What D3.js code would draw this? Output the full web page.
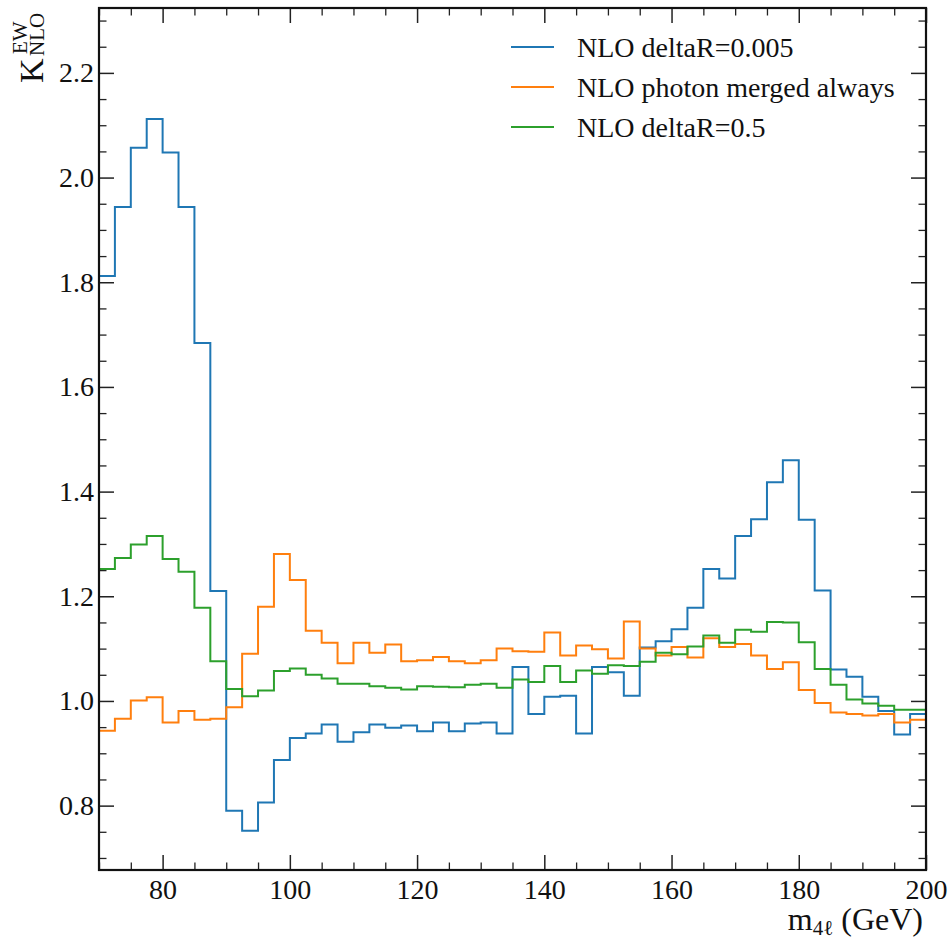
<!DOCTYPE html>
<html>
<head>
<meta charset="utf-8">
<script src="https://cdn.jsdelivr.net/npm/d3@7"></script>
<style>
  body { margin: 0; background: #fff; }
  svg text { font-family: "Liberation Serif", "Times New Roman", serif; fill: #111; }
</style>
</head>
<body>
<div id="chart"></div>
<script>
// bin edges of the m4l histogram (GeV)
var binEdges = [70, 72.5, 75, 77.5, 80, 82.5, 85, 87.5, 90, 92.5, 95, 97.5, 100, 102.5, 105, 107.5,
    110, 112.5, 115, 117.5, 120, 122.5, 125, 127.5, 130, 132.5, 135, 137.5, 140, 142.5, 145, 147.5,
    150, 152.5, 155, 157.5, 160, 162.5, 165, 167.5, 170, 172.5, 175, 177.5, 180, 182.5, 185, 187.5,
    190, 192.5, 195, 197.5, 200];

var deltaR005 = [1.812, 1.944, 2.057, 2.112, 2.048, 1.944, 1.684, 1.210, 0.790, 0.752, 0.806, 0.887, 0.929,
    0.938, 0.955, 0.922, 0.940, 0.955, 0.949, 0.953, 0.942, 0.959, 0.942, 0.957, 0.959, 0.938, 1.065,
    0.975, 1.008, 1.010, 0.938, 1.065, 1.055, 1.010, 1.102, 1.114, 1.137, 1.178, 1.252, 1.234, 1.315,
    1.347, 1.418, 1.460, 1.346, 1.211, 1.060, 1.046, 1.008, 0.981, 0.936, 0.975];

var photonMerged = [0.943, 0.966, 1.001, 1.007, 0.959, 0.981, 0.964, 0.966, 0.988, 1.090, 1.180, 1.281, 1.231,
    1.134, 1.111, 1.072, 1.111, 1.092, 1.108, 1.076, 1.078, 1.084, 1.076, 1.072, 1.078, 1.100, 1.095,
    1.094, 1.131, 1.087, 1.106, 1.099, 1.081, 1.152, 1.100, 1.087, 1.103, 1.083, 1.120, 1.103, 1.109,
    1.087, 1.061, 1.074, 1.021, 0.996, 0.978, 0.975, 0.972, 0.975, 0.959, 0.964];

var deltaR05 = [1.252, 1.273, 1.299, 1.315, 1.271, 1.247, 1.178, 1.076, 1.023, 1.009, 1.020, 1.057, 1.062,
    1.050, 1.043, 1.033, 1.033, 1.028, 1.025, 1.022, 1.028, 1.027, 1.026, 1.031, 1.033, 1.025, 1.041,
    1.036, 1.067, 1.036, 1.058, 1.052, 1.068, 1.067, 1.075, 1.092, 1.089, 1.104, 1.125, 1.111, 1.136,
    1.132, 1.151, 1.150, 1.112, 1.061, 1.031, 1.003, 0.995, 0.991, 0.983, 0.983];

var seriesNames = ['NLO deltaR=0.005', 'NLO photon merged always', 'NLO deltaR=0.5'];
var seriesColors = ['#1f77b4', '#ff7f0e', '#2ca02c'];

var xTicks = [80, 100, 120, 140, 160, 180, 200];
var yTicks = [0.8, 1.0, 1.2, 1.4, 1.6, 1.8, 2.0, 2.2];

// plot box (note: `top` is a reserved window property, so use prefixed names)
var pLeft = 99, pRight = 926, pTop = 8, pBottom = 870;

var svg = d3.select('#chart').append('svg')
    .attr('width', 952)
    .attr('height', 939);

var xScale = d3.scaleLinear().domain([70, 200]).range([pLeft, pRight]);
var yScale = d3.scaleLinear().domain([0.677, 2.324]).range([pBottom, pTop]);

var xMinor = d3.range(70, 200.01, 5).filter(d => xTicks.indexOf(d) < 0);
var yMinor = d3.range(0.70, 2.321, 0.05).map(d => +d.toFixed(2))
    .filter(d => yTicks.every(t => Math.abs(t - d) > 1e-6));

function styleTicks(g, w) {
    g.select('.domain').remove();
    g.selectAll('.tick line').attr('stroke', '#222').attr('stroke-width', w);
}

// major ticks with labels
svg.append('g')
    .attr('transform', `translate(${pLeft},0)`)
    .call(d3.axisLeft(yScale).tickValues(yTicks).tickSize(-15).tickPadding(5).tickFormat(d3.format('.1f')))
    .call(g => styleTicks(g, 1.5))
    .call(g => g.selectAll('text').style('font-size', '28px').attr('fill', '#111'));

svg.append('g')
    .attr('transform', `translate(0,${pBottom})`)
    .call(d3.axisBottom(xScale).tickValues(xTicks).tickSize(-15).tickPadding(9))
    .call(g => styleTicks(g, 1.5))
    .call(g => g.selectAll('text').style('font-size', '28px').attr('fill', '#111'));

// mirrored ticks, no labels
svg.append('g')
    .attr('transform', `translate(${pRight},0)`)
    .call(d3.axisRight(yScale).tickValues(yTicks).tickSize(-15).tickFormat(''))
    .call(g => styleTicks(g, 1.5));

svg.append('g')
    .attr('transform', `translate(0,${pTop})`)
    .call(d3.axisTop(xScale).tickValues(xTicks).tickSize(-15).tickFormat(''))
    .call(g => styleTicks(g, 1.5));

// minor ticks
[[d3.axisLeft(yScale).tickValues(yMinor), `translate(${pLeft},0)`],
 [d3.axisRight(yScale).tickValues(yMinor), `translate(${pRight},0)`],
 [d3.axisBottom(xScale).tickValues(xMinor), `translate(0,${pBottom})`],
 [d3.axisTop(xScale).tickValues(xMinor), `translate(0,${pTop})`]].forEach(a => {
    svg.append('g')
        .attr('transform', a[1])
        .call(a[0].tickSize(-7.5).tickFormat(''))
        .call(g => styleTicks(g, 1.3));
});

// step histograms
svg.append('clipPath').attr('id', 'clip')
    .append('rect')
    .attr('x', pLeft).attr('y', pTop)
    .attr('width', pRight - pLeft).attr('height', pBottom - pTop);

var line = d3.line()
    .x(d => xScale(d[0]))
    .y(d => yScale(d[1]))
    .curve(d3.curveStepAfter);

[deltaR005, photonMerged, deltaR05].forEach((vals, index) => {
    var pts = vals.map((v, i) => [binEdges[i], v]);
    pts.push([binEdges[binEdges.length - 1], vals[vals.length - 1]]);
    svg.append('path')
        .datum(pts)
        .attr('clip-path', 'url(#clip)')
        .attr('d', line)
        .style('fill', 'none')
        .style('stroke', seriesColors[index])
        .style('stroke-width', 2);
});

// frame
svg.append('rect')
    .attr('x', pLeft).attr('y', pTop)
    .attr('width', pRight - pLeft).attr('height', pBottom - pTop)
    .style('fill', 'none')
    .style('stroke', '#111')
    .style('stroke-width', 2.2);

// legend
seriesNames.forEach((name, i) => {
    var y = 47 + i * 40;
    svg.append('line')
        .attr('x1', 511).attr('x2', 554)
        .attr('y1', y).attr('y2', y)
        .style('stroke', seriesColors[i])
        .style('stroke-width', 2);
    svg.append('text')
        .attr('x', 577).attr('y', y + 9.5)
        .style('font-size', '28px')
        .text(name);
});

// x label: m_{4l} (GeV)
var xl = svg.append('text')
    .attr('x', 923).attr('y', 930)
    .attr('text-anchor', 'end')
    .style('font-size', '32px');
xl.append('tspan').text('m');
xl.append('tspan').attr('dy', 5).style('font-size', '21px').text('4\u2113');
xl.append('tspan').attr('dy', -5).text(' (GeV)');

// y label: K^{EW}_{NLO}
var yl = svg.append('g').attr('transform', 'translate(43,0) rotate(-90)');
yl.append('text').attr('x', -83).attr('y', 0).style('font-size', '34px').text('K');
yl.append('text').attr('x', -56).attr('y', 1).style('font-size', '21px').text('NLO');
yl.append('text').attr('x', -54).attr('y', -16).style('font-size', '21px').text('EW');
</script>
</body>
</html>
